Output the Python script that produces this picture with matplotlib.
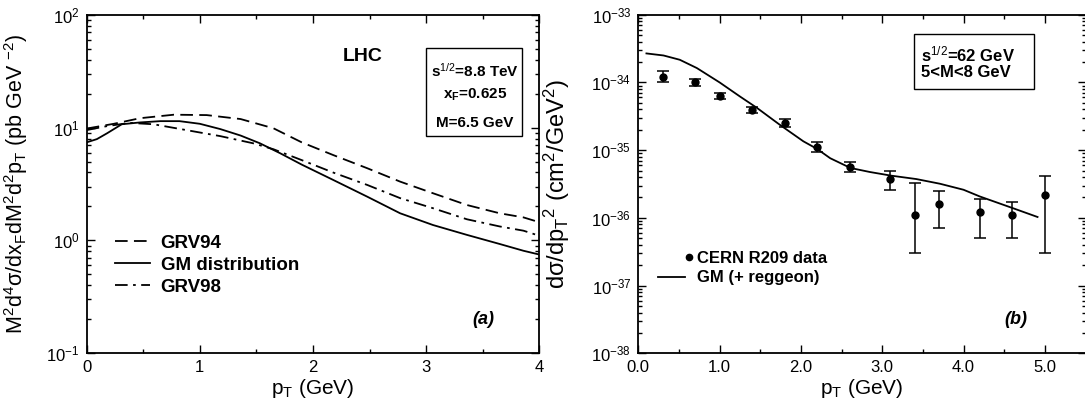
import numpy as np
import matplotlib.pyplot as plt
from matplotlib.ticker import FixedLocator, MultipleLocator, FormatStrFormatter, NullFormatter
from matplotlib.patches import Rectangle
from matplotlib.lines import Line2D
from matplotlib.legend_handler import HandlerLine2D

plt.rcParams['font.family'] = ['Liberation Sans', 'DejaVu Sans']
plt.rcParams['mathtext.fontset'] = 'custom'
plt.rcParams['mathtext.rm'] = 'Liberation Sans'
plt.rcParams['mathtext.it'] = 'Liberation Sans:italic'
plt.rcParams['mathtext.bf'] = 'Liberation Sans:bold'

# panel (a): LHC curves
pt_a = [0.0, 0.09, 0.18, 0.31, 0.47, 0.65, 0.82, 1.0, 1.18, 1.36, 1.53, 1.71, 1.9,
        2.18, 2.48, 2.77, 3.06, 3.36, 3.65, 3.86, 4.0]
gm = [7.4, 7.9, 8.9, 10.7, 11.1, 11.4, 11.4, 10.8, 9.7, 8.5, 7.26, 5.92, 4.7,
      3.43, 2.44, 1.74, 1.37, 1.12, 0.93, 0.81, 0.75]
pt_94 = [0.0, 0.24, 0.47, 0.77, 1.06, 1.36, 1.65, 1.9, 2.18, 2.48, 2.77, 3.06,
         3.36, 3.65, 3.86, 4.0]
grv94 = [9.8, 10.8, 12.1, 13.0, 12.9, 11.9, 9.86, 7.4, 5.7, 4.36, 3.32, 2.62,
         2.06, 1.74, 1.6, 1.45]
pt_98 = [0.0, 0.18, 0.38, 0.59, 0.88, 1.18, 1.47, 1.65, 1.9, 2.18, 2.48, 2.77,
         3.06, 3.36, 3.65, 3.86, 4.0]
grv98 = [9.5, 10.3, 11.0, 10.7, 9.5, 8.4, 7.26, 6.43, 5.15, 3.99, 3.1, 2.37,
         1.93, 1.54, 1.33, 1.22, 1.1]

# panel (b): CERN R209 data and GM (+ reggeon)
pt_b = [0.3, 0.7, 1.0, 1.4, 1.8, 2.2, 2.6, 3.1, 3.4, 3.7, 4.2, 4.6, 5.0]
sig_b = [1.21e-34, 1.0e-34, 6.3e-35, 3.9e-35, 2.55e-35, 1.11e-35, 5.6e-36, 3.8e-36,
         1.1e-36, 1.6e-36, 1.2e-36, 1.1e-36, 2.2e-36]
sig_hi = [1.45e-34, 1.12e-34, 6.9e-35, 4.3e-35, 2.9e-35, 1.3e-35, 6.6e-36, 5.0e-36,
          3.3e-36, 2.5e-36, 1.9e-36, 1.7e-36, 4.1e-36]
sig_lo = [1.0e-34, 0.89e-34, 5.75e-35, 3.5e-35, 2.2e-35, 0.93e-35, 4.8e-36, 2.6e-36,
          3.0e-37, 7.1e-37, 5.0e-37, 5.0e-37, 3.0e-37]
pt_fit = [0.1, 0.31, 0.51, 0.72, 1.0, 1.25, 1.46, 1.74, 2.03, 2.2, 2.36, 2.61, 2.85,
          3.11, 3.42, 3.71, 4.0, 4.2, 4.6, 4.91]
fit = [2.68e-34, 2.5e-34, 2.16e-34, 1.63e-34, 1.0e-34, 6.2e-35, 4.2e-35, 2.37e-35,
       1.35e-35, 1.04e-35, 7.6e-36, 5.45e-36, 4.75e-36, 4.2e-36, 3.74e-36, 3.19e-36,
       2.6e-36, 2.07e-36, 1.4e-36, 1.03e-36]


class RightDot(HandlerLine2D):
    # legend dot sits at the right end of the handle, next to the text
    def get_xdata(self, legend, xdescent, ydescent, width, height, fontsize):
        x = width - xdescent + 3.0
        return np.array([x, x]), np.array([x])


W, H = 1085, 398
fig = plt.figure(figsize=(W / 100, H / 100), dpi=100)
ax1 = fig.add_axes([86.7 / W, 1 - 353.3 / H, 452.6 / W, 338.6 / H])
ax2 = fig.add_axes([638.3 / W, 1 - 353.3 / H, 447.2 / W, 338.6 / H])


def px_a(x, y):
    return (x - 86.7) / 452.6, (353.3 - y) / 338.6


def px_b(x, y):
    return (x - 638.3) / 447.2, (353.3 - y) / 338.6


lw = 1.3
ax1.plot(pt_94, grv94, color='black', lw=lw, dashes=(7, 3.5), label='GRV94')
ax1.plot(pt_a, gm, color='black', lw=lw, label='GM distribution')
ax1.plot(pt_98, grv98, color='black', lw=lw, dashes=(7, 3, 1.5, 3), label='GRV98')
ax1.set_yscale('log')
ax1.set_xlim(0, 4)
ax1.set_ylim(0.1, 100)
ax1.xaxis.set_major_locator(MultipleLocator(1))
ax1.xaxis.set_minor_locator(MultipleLocator(0.5))
ax1.set_xlabel('p$_\\mathregular{T}$ (GeV)', fontsize=15, labelpad=1)
ax1.set_ylabel('M$^2$d$^4$σ/dx$_\\mathregular{F}$dM$^2$d$^2$p$_\\mathregular{T}$ (pb GeV $^{-2}$)',
               fontsize=15.5)
ax1.yaxis.set_label_coords(-0.125, 0.5)
ax1.legend(loc='upper left', bbox_to_anchor=(0.045, 0.372), frameon=False,
           prop={'weight': 'bold', 'size': 13.5}, handlelength=1.9,
           handletextpad=0.55, labelspacing=0.25, borderaxespad=0)
ax1.text(0.61, 0.877, 'LHC', transform=ax1.transAxes, fontsize=14, fontweight='bold',
         ha='center', va='center')
ax1.add_patch(Rectangle(px_a(426, 136), 96 / 452.6, 88 / 338.6,
                        transform=ax1.transAxes, fill=False, lw=1.0, ec='black'))
box_a = ['s$^{1/2}$=8.8 TeV', 'x$_\\mathregular{F}$=0.625', 'M=6.5 GeV']
for txt, yb in zip(box_a, (77, 99, 127)):
    ax1.text(*px_a(475, yb), txt, transform=ax1.transAxes, fontsize=11,
             fontweight='bold', ha='center', va='baseline')
ax1.text(0.876, 0.10, '(a)', transform=ax1.transAxes, fontsize=13, fontweight='bold',
         style='italic', ha='center', va='center')

yerr = [np.array(sig_b) - np.array(sig_lo), np.array(sig_hi) - np.array(sig_b)]
ax2.errorbar(pt_b, sig_b, yerr=yerr, fmt='o', color='black', ms=5, elinewidth=1.1,
             capsize=4, capthick=1.1)
ax2.plot(pt_fit, fit, color='black', lw=lw)
ax2.set_yscale('log')
ax2.set_xlim(0, 5.5)
ax2.set_ylim(1e-38, 1e-33)
ax2.xaxis.set_major_locator(MultipleLocator(1))
ax2.xaxis.set_minor_locator(MultipleLocator(0.5))
ax2.xaxis.set_major_formatter(FormatStrFormatter('%.1f'))
ax2.set_xlabel('p$_\\mathregular{T}$ (GeV)', fontsize=15, labelpad=1)
ax2.set_ylabel('dσ/dp$_\\mathregular{T}$$^2$ (cm$^2$/GeV$^2$)', fontsize=17)
ax2.yaxis.set_label_coords(-0.148, 0.5)
dot = Line2D([], [], color='black', marker='o', ms=4.5, ls='none')
line = Line2D([], [], color='black', lw=lw)
ax2.legend([dot, line], ['CERN R209 data', 'GM (+ reggeon)'], loc='upper left',
           bbox_to_anchor=(0.029, 0.321), frameon=False,
           prop={'weight': 'bold', 'size': 12}, handlelength=1.6,
           handletextpad=0.75, labelspacing=0.25, borderaxespad=0,
           handler_map={dot: RightDot(numpoints=1)})
ax2.add_patch(Rectangle(px_b(914, 89), 120 / 447.2, 55 / 338.6,
                        transform=ax2.transAxes, fill=False, lw=1.0, ec='black'))
for txt, yb in zip(('s$^{1/2}$=62 GeV', '5<M<8 GeV'), (61, 77)):
    ax2.text(*px_b(921, yb), txt, transform=ax2.transAxes, fontsize=12,
             fontweight='bold', ha='left', va='baseline')
ax2.text(px_b(1016, 0)[0], 0.10, '(b)', transform=ax2.transAxes, fontsize=13,
         fontweight='bold', style='italic', ha='center', va='center')

for ax, lo, hi in ((ax1, -1, 2), (ax2, -38, -33)):
    decades = np.arange(lo, hi + 1)
    ax.yaxis.set_major_locator(FixedLocator(10.0 ** decades))
    minors = [m * 10.0 ** d for d in decades[:-1] for m in range(2, 10)]
    ax.yaxis.set_minor_locator(FixedLocator(minors))
    ax.yaxis.set_minor_formatter(NullFormatter())
    ax.tick_params(which='both', direction='in', top=True, right=True, labelsize=12,
                   width=1.0, pad=5)
    ax.tick_params(which='major', length=6)
    ax.tick_params(which='minor', length=3)
    for s in ax.spines.values():
        s.set_linewidth(1.3)

fig.savefig('out.png', dpi=100)
